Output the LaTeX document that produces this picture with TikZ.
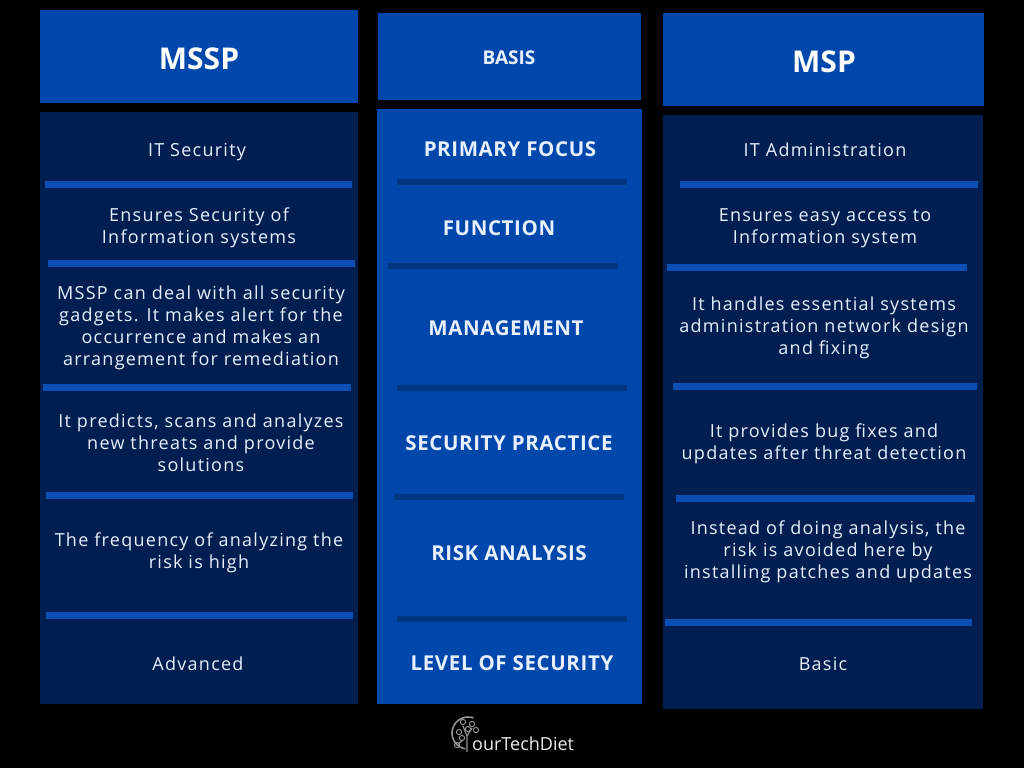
\documentclass[tikz,border=0pt]{standalone}
\usepackage{fontspec}
\setmainfont{Open Sans}
\newfontfamily\cellfont[LetterSpace=7]{Open Sans}
\newfontfamily\basisfont[LetterSpace=3]{Open Sans}
\usetikzlibrary{positioning}

\definecolor{headblue}{HTML}{0047AB}
\definecolor{bodynavy}{HTML}{001E4F}
\definecolor{rulebright}{HTML}{0B4FB5}
\definecolor{ruledark}{HTML}{00357F}
\definecolor{celltext}{HTML}{E8F0FF}

\begin{document}
\begin{tikzpicture}[x=1pt, y=-1pt]


        % Setup the styles for the boxes and texts
        \tikzset{head style/.style={rectangle, fill=headblue, inner sep=0pt},
                 body style/.style={rectangle, inner sep=0pt},
                 head text/.style={text=white, font=\fontsize{30}{34}\selectfont\bfseries},
                 cell text/.style={text=celltext, align=center,
                                   font=\fontsize{18}{22}\cellfont},
                 basis text/.style={text=celltext, align=center,
                                    font=\fontsize{20.5}{24}\basisfont\bfseries},
                 bright rule/.style={rulebright, line width=7pt},
                 dark rule/.style={ruledark, line width=6pt},
                 logo line/.style={gray!85!white, line width=1.6pt}}

\fill[black] (0,0) rectangle (1024,768);
\useasboundingbox (0,0) rectangle (1024,768);

% Add the columns
\node[head style, minimum width=318pt, minimum height=93pt] at (199,56.5) (mssp box) {};
\node[body style, fill=bodynavy, minimum width=318pt, minimum height=592pt] at (199,408) (mssp body) {};

\node[head style, minimum width=263pt, minimum height=87pt] at (509.5,56.5) (basis box) {};
\node[body style, fill=headblue, minimum width=265pt, minimum height=595pt] at (509.5,406.5) (basis body) {};

\node[head style, minimum width=321pt, minimum height=93pt] at (823.5,59.5) (msp box) {};
\node[body style, fill=bodynavy, minimum width=320pt, minimum height=594pt] at (823,412) (msp body) {};

% Add the rules between the rows
\draw[bright rule] (45,184) -- (352,184);
\draw[bright rule] (48,263) -- (355,263);
\draw[bright rule] (43,387) -- (351,387);
\draw[bright rule] (46,495) -- (353,495);
\draw[bright rule] (46,615) -- (353,615);

\draw[dark rule] (397,182) -- (627,182);
\draw[dark rule] (388,266) -- (618,266);
\draw[dark rule] (397,388) -- (627,388);
\draw[dark rule] (394,497) -- (624,497);
\draw[dark rule] (397,619) -- (627,619);

\draw[bright rule] (680,184) -- (978,184);
\draw[bright rule] (667,267) -- (967,267);
\draw[bright rule] (673,386) -- (977,386);
\draw[bright rule] (676,498) -- (975,498);
\draw[bright rule] (665,622) -- (972,622);

% Add the headers
\node[head text] at (199,59) (mssp) {MSSP};
\node[basis text, font=\fontsize{19}{22}\selectfont\bfseries] at (509,58) (basis) {BASIS};
\node[head text] at (824,62) (msp) {MSP};

% Add the MSSP cells
\node[cell text] at (197,152) (mssp focus) {IT Security};
\node[cell text] at (199,228) (mssp function) {Ensures Security of\\Information systems};
\node[cell text] at (201,328) (mssp management) {MSSP can deal with all security\\gadgets. It makes alert for the\\occurrence and makes an\\arrangement for remediation};
\node[cell text] at (201,443) (mssp practice) {It predicts, scans and analyzes\\new threats and provide\\solutions};
\node[cell text] at (199,553) (mssp risk) {The frequency of analyzing the\\risk is high};
\node[cell text] at (198,664) (mssp level) {Advanced};

% Add the basis cells
\node[basis text] at (510,149) (basis focus) {PRIMARY FOCUS};
\node[basis text] at (499,228) (basis function) {FUNCTION};
\node[basis text] at (506,328) (basis management) {MANAGEMENT};
\node[basis text] at (509,443) (basis practice) {SECURITY PRACTICE};
\node[basis text] at (509,553) (basis risk) {RISK ANALYSIS};
\node[basis text] at (512,663) (basis level) {LEVEL OF SECURITY};

% Add the MSP cells
\node[cell text] at (825,150) (msp focus) {IT Administration};
\node[cell text] at (825,228) (msp function) {Ensures easy access to\\Information system};
\node[cell text] at (824,328) (msp management) {It handles essential systems\\administration network design\\and fixing};
\node[cell text] at (824,444) (msp practice) {It provides bug fixes and\\updates after threat detection};
\node[cell text] at (828,552) (msp risk) {Instead of doing analysis, the\\risk is avoided here by\\installing patches and updates};
\node[cell text] at (823,664) (msp level) {Basic};

% Add the logo
\coordinate (logo) at (468,733);
\draw[logo line] ([shift={(100:16)}]logo) arc[start angle=100, end angle=290, radius=16];
\draw[logo line, line width=1.2pt] (467,736) -- (467,752)
      (467,736) -- (463,726) (467,736) -- (472,728) (463,740) -- (458,744);
\foreach \p in {(463,722),(472,724),(468,729),(459,732),(462,738),(457,745),(476,730)}
  \draw[logo line, line width=1pt] \p circle[radius=2.6];
\node[anchor=base west, inner sep=0pt, text=gray!15!white,
      font=\fontsize{18}{20}\selectfont] at (472,750) (brand) {ourTechDiet};
\end{tikzpicture}
\end{document}
